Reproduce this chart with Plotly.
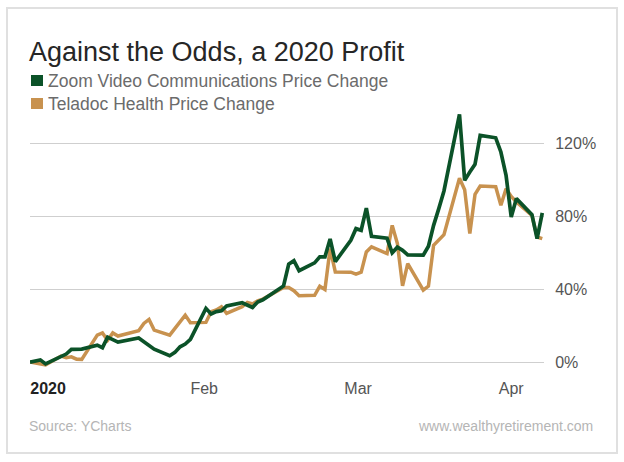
import plotly.graph_objects as go

dates = ["2019-12-31",
 "2020-01-02","2020-01-03","2020-01-06","2020-01-07","2020-01-08","2020-01-09","2020-01-10",
 "2020-01-13","2020-01-14","2020-01-15","2020-01-16","2020-01-17","2020-01-21","2020-01-22",
 "2020-01-23","2020-01-24","2020-01-27","2020-01-28","2020-01-29","2020-01-30","2020-01-31",
 "2020-02-03","2020-02-04","2020-02-05","2020-02-06","2020-02-07","2020-02-10","2020-02-11",
 "2020-02-12","2020-02-13","2020-02-14","2020-02-18","2020-02-19","2020-02-20","2020-02-21",
 "2020-02-24","2020-02-25","2020-02-26","2020-02-27","2020-02-28",
 "2020-03-02","2020-03-03","2020-03-04","2020-03-05","2020-03-06","2020-03-09","2020-03-10",
 "2020-03-11","2020-03-12","2020-03-13","2020-03-16","2020-03-17","2020-03-18","2020-03-19",
 "2020-03-20","2020-03-23","2020-03-24","2020-03-25","2020-03-26","2020-03-27","2020-03-30",
 "2020-03-31","2020-04-01","2020-04-02","2020-04-03","2020-04-06","2020-04-07","2020-04-08"]

zoom_change = [0,1.2,-1,3.3,4.4,7,6.8,7.1,
 9.3,7.9,13.7,12.4,11,13.2,11.2,
 9,7.1,3.5,5.3,8.4,9.9,12.5,
 29.5,26.4,27.7,28.2,30.8,32.6,31.3,
 30,33,34.2,41.8,53.8,55.7,50.2,
 54.5,57.8,57.8,67.6,55.2,
 66.9,73.3,72.4,84.6,69.1,68,60,
 63.1,61.4,58.9,58.7,63.6,75.1,84.3,
 94,136,99.8,104.4,108.6,124.5,123.2,
 115.4,102.6,79.7,89.8,81,67.8,81.9]

teladoc_change = [0,-1,-1.5,3.3,2.4,2.9,1.6,1.5,
 14.8,16,12,16,14.3,17.2,21.2,
 23.4,17.6,14.8,18.5,22,25.8,21.6,
 21.8,27.7,28.6,30.4,26.7,30.4,32.8,
 31.9,33.7,34.6,41,41,39.2,36.4,
 36.7,41.7,39.9,62.3,49.5,
 49.4,48.3,49.4,60.5,63.3,59.6,75.1,
 65.1,41.9,54.1,39.5,41.7,64.2,66.9,
 70,101,94.7,70.6,92.1,96.7,96.3,
 86.1,95.2,91,88,80.6,68.7,67.8]

series_names = ["Zoom Video Communications Price Change", "Teladoc Health Price Change"]
x_tick_dates = ["2020-01-03 12:00","2020-02-02 16:00","2020-03-03 10:00","2020-04-02"]
x_tick_labels = ["<b style='color:#222'>2020</b>","Feb","Mar","Apr"]
y_tick_values = [0,40,80,120]
y_tick_labels = ["0%","40%","80%","120%"]

GREEN = "#0b5228"
ORANGE = "#c8924f"
W, H = 624, 462
L, R, T, B = 30, 544, 89, 373
FONT = "Liberation Sans, Arial, sans-serif"

def px(x): return (x - L) / (R - L)
def py(y): return (B - y) / (B - T)

fig = go.Figure()
fig.add_trace(go.Scatter(x=dates, y=teladoc_change, mode="lines", name=series_names[1],
                         line=dict(color=ORANGE, width=3.5), showlegend=False, cliponaxis=False))
fig.add_trace(go.Scatter(x=dates, y=zoom_change, mode="lines", name=series_names[0],
                         line=dict(color=GREEN, width=3.7), showlegend=False, cliponaxis=False))

def text(x, y, s, size, color, anchor="left"):
    return dict(xref="paper", yref="paper", x=px(x), y=py(y), text=s, showarrow=False,
                xanchor=anchor, yanchor="middle", font=dict(family=FONT, size=size, color=color))

fig.update_layout(
    width=W, height=H, autosize=False, paper_bgcolor="white", plot_bgcolor="white",
    margin=dict(l=L, r=W-R, t=T, b=H-B),
    font=dict(family=FONT, color="#555555"),
    showlegend=False,
    xaxis=dict(type="date", range=["2019-12-31","2020-04-08 08:00"], showgrid=False, zeroline=False,
               showline=False, tickmode="array", tickvals=x_tick_dates, ticktext=x_tick_labels,
               ticks="outside", ticklen=1, tickcolor="rgba(0,0,0,0)", tickfont=dict(size=16, color="#555555")),
    yaxis=dict(side="right", range=[-6,150], tickmode="array", tickvals=y_tick_values, ticktext=y_tick_labels,
               showgrid=True, gridcolor="#cfcfcf", gridwidth=1.4, zeroline=False, showline=False,
               ticks="outside", ticklen=7, tickcolor="rgba(0,0,0,0)", tickfont=dict(size=16, color="#555555")),
    annotations=[
        text(27, 52, "Against the Odds, a 2020 Profit", 27, "#262626"),
        text(46, 81, series_names[0], 17.5, "#6b6b6b"),
        text(46, 104, series_names[1], 17.5, "#6b6b6b"),
        text(27, 426, "Source: YCharts", 14, "#b5b5b5"),
        text(595, 426, "www.wealthyretirement.com", 14, "#b5b5b5", "right"),
    ],
    shapes=[
        dict(type="rect", xref="paper", yref="paper", x0=px(7), x1=px(617), y0=py(8), y1=py(453),
             line=dict(color="#e0e0e0", width=2), layer="below"),
        dict(type="rect", xref="paper", yref="paper", x0=px(31), x1=px(43), y0=py(75), y1=py(86),
             fillcolor=GREEN, line=dict(width=0)),
        dict(type="rect", xref="paper", yref="paper", x0=px(31), x1=px(43), y0=py(98), y1=py(109),
             fillcolor=ORANGE, line=dict(width=0)),
    ],
)
fig.write_html("out.html", post_script="document.body.style.margin='0';",
               config=dict(displayModeBar=False))
